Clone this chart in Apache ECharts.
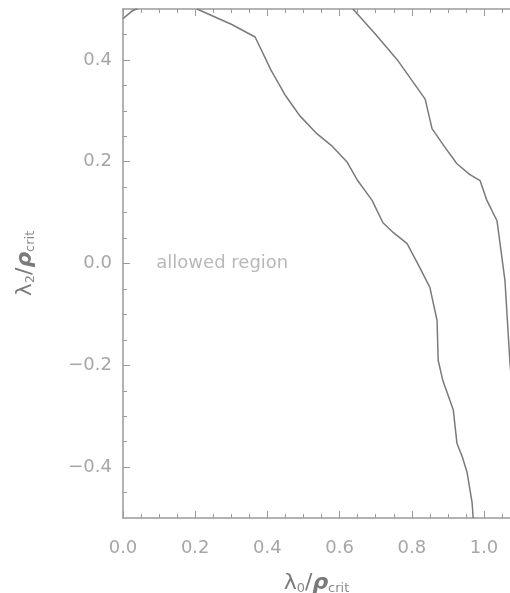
<!DOCTYPE html>
<html>
<head>
<meta charset="utf-8">
<script src="https://cdn.jsdelivr.net/npm/echarts@6/dist/echarts.min.js"></script>
<style>
  html, body { margin: 0; padding: 0; background: #fff; }
  #charts { width: 510px; height: 593px; }
</style>
</head>
<body>
<div id="charts"></div>
<script>
// inner contour (lambda0, lambda2)
let innerX = [0.205, 0.30, 0.366, 0.41, 0.45, 0.47, 0.49, 0.537, 0.58, 0.62, 0.65, 0.69, 0.72, 0.75, 0.787, 0.82, 0.85, 0.87, 0.873, 0.886, 0.915, 0.925, 0.94, 0.953, 0.967, 0.970];
let innerY = [0.50, 0.47, 0.445, 0.38, 0.33, 0.31, 0.29, 0.255, 0.23, 0.20, 0.163, 0.124, 0.08, 0.06, 0.039, -0.005, -0.047, -0.112, -0.19, -0.23, -0.288, -0.353, -0.38, -0.41, -0.47, -0.50];
// outer contour
let outerX = [0.637, 0.70, 0.76, 0.81, 0.837, 0.856, 0.89, 0.925, 0.96, 0.989, 1.008, 1.036, 1.058, 1.072, 1.09];
let outerY = [0.50, 0.45, 0.40, 0.35, 0.323, 0.265, 0.23, 0.196, 0.175, 0.163, 0.124, 0.084, -0.033, -0.196, -0.35];
// tiny contour in the top-left corner
let cornerX = [0.0, 0.015, 0.028, 0.04];
let cornerY = [0.481, 0.49, 0.497, 0.50];

let xTicks = [0.0, 0.2, 0.4, 0.6, 0.8, 1.0];
let yTicks = [-0.4, -0.2, 0.0, 0.2, 0.4];
let yMinor = [-0.45, -0.35, -0.3, -0.25, -0.15, -0.1, -0.05, 0.05, 0.1, 0.15, 0.25, 0.3, 0.35, 0.45];

function pairs(xs, ys) {
  let list = [];
  for (let i = 0; i < xs.length; i++) {
    list.push([xs[i], ys[i]]);
  }
  return list;
}

function fmt(v) {
  return v.toFixed(1).replace("-", "\u2212");
}

let chartDom = document.getElementById("charts");
let myChart = echarts.init(chartDom);
let axisColor = "#9a9a9a";
let lineColor = "#7a7a7a";
let labelColor = "#a6a6a6";
let font = "DejaVu Sans";

let nameRich = {
  l: { fontSize: 22, color: "#7a7a7a", fontFamily: font },
  r: { fontSize: 22, color: "#7a7a7a", fontFamily: font, fontStyle: "italic", fontWeight: "bold" },
  s: { fontSize: 13, color: "#8a8a8a", fontFamily: font, padding: [10, 0, 0, 0] },
};

let axisLine = { show: true, onZero: false, lineStyle: { color: axisColor, width: 1.5 } };

let xCommon = {
  type: "value",
  min: 0,
  max: 1.072,
  interval: 0.2,
  axisLine: axisLine,
  axisTick: { show: true, inside: true, length: 7, lineStyle: { color: axisColor } },
  minorTick: { show: true, splitNumber: 4, length: 4, lineStyle: { color: axisColor } },
  splitLine: { show: false },
  minorSplitLine: { show: false },
};

let option = {
  animation: false,
  grid: { left: 123, right: 0, top: 9, bottom: 75, containLabel: false, outerBoundsMode: "none" },
  xAxis: [
    Object.assign({}, xCommon, {
      position: "bottom",
      name: "{l|λ}{s|0}{l|/}{r|ρ}{s|crit}",
      nameLocation: "middle",
      nameGap: 54,
      nameTextStyle: { rich: nameRich },
      axisLabel: {
        color: labelColor,
        fontSize: 18,
        fontFamily: font,
        margin: 21,
        showMaxLabel: false,
        formatter: function (v) {
          return xTicks.indexOf(Math.round(v * 10) / 10) >= 0 ? fmt(v) : "";
        },
      },
    }),
    Object.assign({}, xCommon, {
      position: "top",
      axisLabel: { show: false },
    }),
  ],
  yAxis: [
    {
      type: "value",
      min: -0.5,
      max: 0.5,
      position: "left",
      name: "{l|λ}{s|2}{l|/}{r|ρ}{s|crit}",
      nameLocation: "middle",
      nameGap: 86,
      nameRotate: 90,
      nameTextStyle: { rich: nameRich },
      axisLine: axisLine,
      axisTick: { show: true, inside: true, length: 7, customValues: yTicks, lineStyle: { color: axisColor } },
      axisLabel: {
        color: labelColor,
        fontSize: 18,
        fontFamily: font,
        margin: 11,
        customValues: yTicks,
        formatter: function (v) {
          return fmt(v);
        },
      },
      splitLine: { show: false },
    },
    {
      type: "value",
      min: -0.5,
      max: 0.5,
      position: "left",
      offset: 0,
      axisLine: { show: false },
      axisTick: { show: true, inside: true, length: 4, customValues: yMinor, lineStyle: { color: axisColor } },
      axisLabel: { show: false },
      splitLine: { show: false },
    },
  ],
  series: [
    {
      type: "line",
      data: pairs(innerX, innerY),
      symbol: "none",
      lineStyle: { color: lineColor, width: 1.5 },
    },
    {
      type: "line",
      data: pairs(outerX, outerY),
      symbol: "none",
      lineStyle: { color: lineColor, width: 1.5 },
    },
    {
      type: "line",
      data: pairs(cornerX, cornerY),
      symbol: "none",
      smooth: true,
      lineStyle: { color: lineColor, width: 1.5 },
    },
    {
      type: "scatter",
      data: [[0.275, 0.0]],
      symbolSize: 0,
      label: {
        show: true,
        position: "inside",
        formatter: "allowed region",
        color: labelColor,
        fontSize: 18,
        fontFamily: font,
      },
    },
  ],
};

option && myChart.setOption(option);
</script>
</body>
</html>
